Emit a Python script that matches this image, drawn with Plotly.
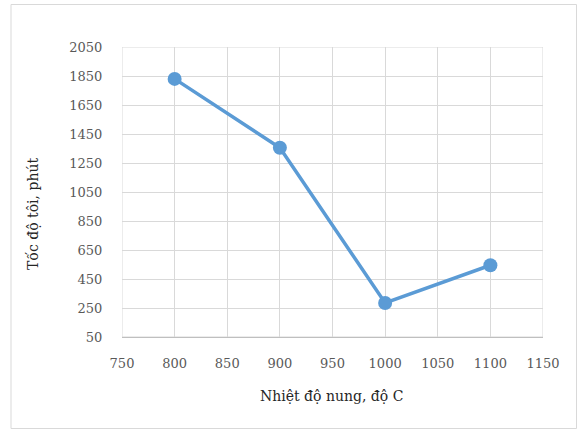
import plotly.graph_objects as go

# Nhiệt độ nung (°C) và tốc độ tôi (phút)
nhiet_do = [800, 900, 1000, 1100]
toc_do_toi = [1830, 1355, 285, 545]

x_ticks = [750, 800, 850, 900, 950, 1000, 1050, 1100, 1150]
y_ticks = [50, 250, 450, 650, 850, 1050, 1250, 1450, 1650, 1850, 2050]

FONT = "DejaVu Serif"
BLUE = "#5b9bd5"
GRID = "#d9d9d9"

fig = go.Figure(
    go.Scatter(
        x=nhiet_do,
        y=toc_do_toi,
        mode="lines+markers",
        line=dict(color=BLUE, width=3.5),
        marker=dict(color=BLUE, size=14),
        showlegend=False,
    )
)

L, R, T, B = 122, 34, 47, 93
W, H = 577, 430
pw, ph = W - L - R, H - T - B

fig.update_layout(
    width=W,
    height=H,
    margin=dict(l=L, r=R, t=T, b=B),
    paper_bgcolor="white",
    plot_bgcolor="white",
    font=dict(family=FONT, size=13, color="#595959"),
    shapes=[
        dict(
            type="rect",
            xref="paper",
            yref="paper",
            x0=(11 - L) / pw,
            x1=(576.5 - L) / pw,
            y0=(H - B - 428.5) / ph,
            y1=(H - B - 4.5) / ph,
            line=dict(color="#d9d9d9", width=1),
            layer="below",
        )
    ],
    annotations=[
        dict(
            text="Tốc độ tôi, phút",
            xref="paper",
            yref="paper",
            x=(33 - L) / pw,
            y=(H - B - 214) / ph,
            xanchor="center",
            yanchor="middle",
            textangle=-90,
            showarrow=False,
            font=dict(family=FONT, size=14, color="#262626"),
        ),
        dict(
            text="Nhiệt độ nung, độ C",
            xref="paper",
            yref="paper",
            x=(331 - L) / pw,
            y=(H - B - 396) / ph,
            xanchor="center",
            yanchor="middle",
            showarrow=False,
            font=dict(family=FONT, size=14, color="#262626"),
        ),
    ],
)

fig.update_xaxes(
    range=[750, 1150],
    tickvals=x_ticks,
    ticktext=[str(v) for v in x_ticks],
    showgrid=True,
    gridcolor=GRID,
    gridwidth=1,
    zeroline=False,
    showline=True,
    linecolor="#bfbfbf",
    linewidth=1,
    ticks="outside",
    ticklen=14,
    tickcolor="rgba(0,0,0,0)",
    tickfont=dict(family=FONT, size=13, color="#595959"),
)

fig.update_yaxes(
    range=[50, 2050],
    tickvals=y_ticks,
    ticktext=[str(v) for v in y_ticks],
    showgrid=True,
    gridcolor=GRID,
    gridwidth=1,
    zeroline=False,
    showline=False,
    ticks="outside",
    ticklen=16,
    tickcolor="rgba(0,0,0,0)",
    tickfont=dict(family=FONT, size=13, color="#595959"),
)

# outline of the plot area
fig.add_shape(
    type="rect", xref="x", yref="y", x0=750, x1=1150, y0=50, y1=2050,
    line=dict(color=GRID, width=1), layer="below",
)

fig.write_html("out.html")
